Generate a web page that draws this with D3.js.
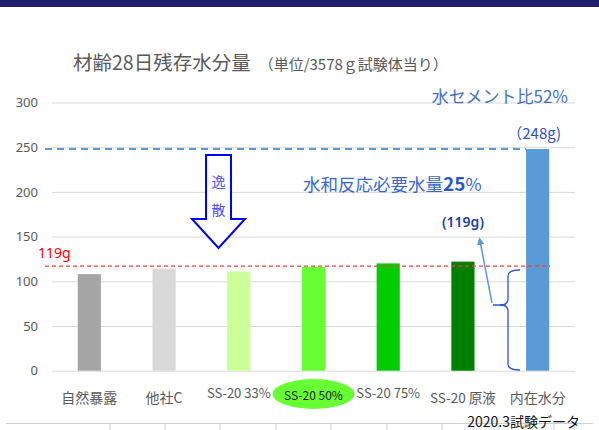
<!DOCTYPE html>
<html>
<head>
<meta charset="utf-8">
<script src="https://cdn.jsdelivr.net/npm/d3@7"></script>
<style>
  body { margin: 0; background: #fff; }
  svg { display: block; font-family: "Noto Sans CJK JP", "Noto Sans", sans-serif; }
</style>
</head>
<body>
<svg id="chart" width="599" height="430"></svg>
<script>
// 材齢28日 残存水分量 (g / 3578g 試験体)
const categories = ["自然暴露", "他社C", "SS-20 33%", "SS-20 50%", "SS-20 75%", "SS-20 原液", "内在水分"];
const values = [108, 114, 111, 116, 120, 122, 248];
const barColors = ["#a5a5a5", "#d9d9d9", "#ccff99", "#66ff33", "#00cc00", "#008000", "#5b9bd5"];
const yTicks = [0, 50, 100, 150, 200, 250, 300];
const requiredWater = 117;   // red dashed line (labelled 119g)
const innerWater = 248;      // blue dashed line

const svg = d3.select("#chart");

// top navy band
svg.append("rect").attr("x", 0).attr("y", 0).attr("width", 599).attr("height", 7).attr("fill", "#1f1f6e");

const x = d3.scaleBand().domain(categories).range([52, 575]).paddingInner(0.69).paddingOuter(0.345);
const y = d3.scaleLinear().domain([0, 300]).range([370.7, 102.5]);

// title
const title = svg.append("text").attr("x", 73).attr("y", 70).attr("fill", "#595959");
title.append("tspan").attr("font-size", 19.5).text("材齢28日残存水分量");
title.append("tspan").attr("font-size", 15).attr("dx", 8).text("（単位/3578ｇ試験体当り）");

// grid + y axis
const yAxis = svg.append("g")
  .attr("transform", "translate(52,0)")
  .call(d3.axisLeft(y).tickValues(yTicks).tickSize(-523).tickPadding(14));
yAxis.select(".domain").remove();
yAxis.selectAll(".tick line").attr("stroke", "#d9d9d9");
yAxis.selectAll(".tick text").attr("fill", "#595959").attr("font-size", 13)
  .attr("font-family", "'Noto Sans', sans-serif");

// reference lines
svg.append("line")
  .attr("x1", 45).attr("x2", x("内在水分"))
  .attr("y1", y(innerWater)).attr("y2", y(innerWater))
  .attr("stroke", "#5b9bd5").attr("stroke-width", 2).attr("stroke-dasharray", "7,5");

// bars
svg.append("g").selectAll("rect")
  .data(values)
  .join("rect")
  .attr("x", (d, i) => x(categories[i]))
  .attr("y", d => y(d))
  .attr("width", x.bandwidth())
  .attr("height", d => y(0) - y(d))
  .attr("fill", (d, i) => barColors[i]);

svg.append("line")
  .attr("x1", 45).attr("x2", 550)
  .attr("y1", y(requiredWater)).attr("y2", y(requiredWater))
  .attr("stroke", "#ff3b3b").attr("stroke-width", 1.2).attr("stroke-dasharray", "4,3");

svg.append("text").attr("x", 38).attr("y", 258).attr("fill", "#ff0000")
  .attr("font-size", 14).attr("font-family", "'Noto Sans', sans-serif").text("119g");

// highlight ellipse behind SS-20 50%
const cx50 = x("SS-20 50%") + x.bandwidth() / 2;
svg.append("ellipse").attr("cx", cx50).attr("cy", 394).attr("rx", 41).attr("ry", 15).attr("fill", "#66ff33");

// x labels
const xLabelY = [398, 398, 393, 395, 393, 398, 398];
const xLabelSize = [14, 14, 13, 12, 13, 13.5, 14];
svg.append("g").selectAll("text")
  .data(categories)
  .join("text")
  .attr("x", d => x(d) + x.bandwidth() / 2)
  .attr("y", (d, i) => xLabelY[i] + 5)
  .attr("text-anchor", "middle")
  .attr("font-size", (d, i) => xLabelSize[i])
  .attr("fill", (d, i) => i === 3 ? "#1a1a1a" : "#595959")
  .text(d => d);

// 逸散 arrow
const arrowPath = "M206,155 L231,155 L231,219 L245,219 L218.5,248 L192,219 L206,219 Z";
svg.append("path").attr("d", arrowPath).attr("fill", "#fff").attr("stroke", "#0000ff").attr("stroke-width", 2);
svg.append("text").attr("x", 218.5).attr("y", 187).attr("text-anchor", "middle")
  .attr("font-size", 14).attr("fill", "#5050ff").text("逸");
svg.append("text").attr("x", 218.5).attr("y", 215).attr("text-anchor", "middle")
  .attr("font-size", 14).attr("fill", "#5050ff").text("散");

// annotations
svg.append("text").attr("x", 568).attr("y", 103).attr("text-anchor", "end")
  .attr("font-size", 17).attr("fill", "#4472c4").text("水セメント比52%");
svg.append("text").attr("x", 561).attr("y", 139).attr("text-anchor", "end")
  .attr("font-size", 15).attr("fill", "#2f4fbf").text("（248g)");

const wt = svg.append("text").attr("x", 303).attr("y", 191).attr("fill", "#3a66d4");
wt.append("tspan").attr("font-size", 17.5).text("水和反応必要水量");
wt.append("tspan").attr("font-size", 19).attr("font-weight", "bold").attr("fill", "#2a55cc").text("25");
wt.append("tspan").attr("font-size", 17.5).text("%");
svg.append("text").attr("x", 463).attr("y", 227).attr("text-anchor", "middle")
  .attr("font-size", 14).attr("font-weight", 600).attr("fill", "#1f3fa8")
  .attr("font-family", "'Noto Sans', sans-serif").text("(119g)");

// arrow to (119g)
svg.append("defs").append("marker")
  .attr("id", "head").attr("viewBox", "0 0 10 10").attr("refX", 5).attr("refY", 5)
  .attr("markerWidth", 5).attr("markerHeight", 5).attr("orient", "auto")
  .append("path").attr("d", "M0,0 L10,5 L0,10 Z").attr("fill", "#5b9bd5");
svg.append("line").attr("x1", 492).attr("y1", 303).attr("x2", 480).attr("y2", 241)
  .attr("stroke", "#5b9bd5").attr("stroke-width", 1.5).attr("marker-end", "url(#head)");
svg.append("line").attr("x1", 493).attr("y1", 305).attr("x2", 506).attr("y2", 305)
  .attr("stroke", "#2f55d4").attr("stroke-width", 1.5);

// curly brace
svg.append("path")
  .attr("d", "M520,270 Q508,270 508,276 L508,299 Q508,305 500,305 Q508,305 508,311 L508,364 Q508,370 520,370")
  .attr("fill", "none").attr("stroke", "#2f55d4").attr("stroke-width", 1.3);

// bottom table border
svg.append("line").attr("x1", 6).attr("x2", 593).attr("y1", 423.5).attr("y2", 423.5)
  .attr("stroke", "#d0d0d0");
const tableCols = [110, 165, 220, 276, 331, 387, 442, 498, 554];
svg.append("g").selectAll("line")
  .data(tableCols)
  .join("line")
  .attr("x1", d => d).attr("x2", d => d).attr("y1", 423.5).attr("y2", 430)
  .attr("stroke", "#d0d0d0");

svg.append("text").attr("x", 580).attr("y", 427).attr("text-anchor", "end")
  .attr("font-size", 14).attr("fill", "#111").text("2020.3試験データ");
</script>
</body>
</html>
